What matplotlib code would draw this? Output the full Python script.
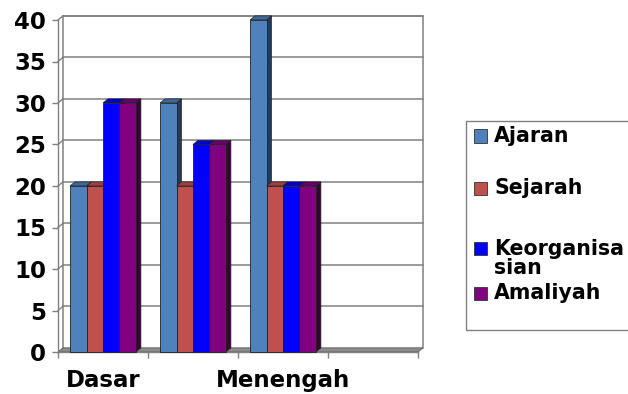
import matplotlib.pyplot as plt
import matplotlib.colors as mcolors
from matplotlib.patches import Polygon, Rectangle
import numpy as np

# Scores per level (last slot on the axis is left empty)
tick_labels = ['Dasar', '', 'Menengah', '']
series_names = ['Ajaran', 'Sejarah', 'Keorganisasian', 'Amaliyah']
ajaran = [20, 30, 40]
sejarah = [20, 20, 20]
keorganisasian = [30, 25, 20]
amaliyah = [30, 25, 20]
series_values = [ajaran, sejarah, keorganisasian, amaliyah]
colors = ['#4F81BD', '#C0504D', '#0000FF', '#800080']

W, H = 628, 394
fig = plt.figure(figsize=(W / 100, H / 100), dpi=100)
plt.rcParams['font.family'] = 'DejaVu Sans'

ax = fig.add_axes([58 / W, 1 - 352 / H, 360 / W, 332 / H])
n_slots = len(tick_labels)
ax.set_xlim(-0.5, n_slots - 0.5)
ax.set_ylim(0, 40)

# pseudo 3D depth (data units)
ddx, ddy = 0.055, 0.5
grid_c = '#808080'

# back wall gridlines + short diagonals on the left wall
for v in range(5, 45, 5):
    ax.plot([-0.5 + ddx, n_slots - 0.5 + ddx], [v + ddy, v + ddy], color=grid_c, lw=1.1, zorder=1, clip_on=False)
    ax.plot([-0.5, -0.5 + ddx], [v, v + ddy], color=grid_c, lw=1.0, zorder=1, clip_on=False)
# back wall border
ax.plot([-0.5 + ddx, -0.5 + ddx, n_slots - 0.5 + ddx, n_slots - 0.5 + ddx],
        [ddy, 40 + ddy, 40 + ddy, ddy], color=grid_c, lw=1.1, zorder=1, clip_on=False)
# floor
floor = Polygon([(-0.5, 0), (n_slots - 0.5, 0), (n_slots - 0.5 + ddx, ddy), (-0.5 + ddx, ddy)],
                closed=True, facecolor='#8c8c8c', edgecolor='#555555', lw=0.6, zorder=2, clip_on=False)
ax.add_patch(floor)


def shade(c, f):
    r, g, b = mcolors.to_rgb(c)
    return (r * f, g * f, b * f)


w = 0.183
for j, (vals, c) in enumerate(zip(series_values, colors)):
    x = np.arange(len(vals)) + (j - 1.5) * w
    z = 3 + j
    for xi, v in zip(x, vals):
        side = Polygon([(xi + w / 2, 0), (xi + w / 2 + ddx, ddy), (xi + w / 2 + ddx, v + ddy), (xi + w / 2, v)],
                       closed=True, facecolor=shade(c, 0.45), edgecolor='#222222', lw=0.5, zorder=z, clip_on=False)
        top = Polygon([(xi - w / 2, v), (xi + w / 2, v), (xi + w / 2 + ddx, v + ddy), (xi - w / 2 + ddx, v + ddy)],
                      closed=True, facecolor=shade(c, 0.8), edgecolor='#222222', lw=0.5, zorder=z, clip_on=False)
        ax.add_patch(side)
        ax.add_patch(top)
    ax.bar(x, vals, width=w, color=c, edgecolor='#222222', linewidth=0.6, zorder=z + 0.5, clip_on=False)

# axes styling
for s in ['top', 'right']:
    ax.spines[s].set_visible(False)
for s in ['left', 'bottom']:
    ax.spines[s].set_color('#808080')
    ax.spines[s].set_linewidth(1.0)
    ax.spines[s].set_zorder(2.5)

ax.set_yticks(range(0, 45, 5))
ax.tick_params(axis='y', length=4, width=1, color='#808080', pad=4.5, labelsize=16.5)
ax.set_xticks(range(n_slots), tick_labels)
ax.set_xticks(np.arange(-0.5, n_slots, 1.0), minor=True)
ax.tick_params(axis='x', which='major', length=0, pad=12, labelsize=16.5)
ax.tick_params(axis='x', which='minor', length=4, width=1, color='#808080')
for lab in ax.get_xticklabels() + ax.get_yticklabels():
    lab.set_fontweight('bold')

# legend box (drawn by hand, runs off the right edge)
fig.patches.append(Rectangle((466 / W, 1 - 330 / H), 200 / W, 209 / H, transform=fig.transFigure,
                             facecolor='white', edgecolor='#808080', lw=1.0))
legend_y = [136, 188, 248, 293]
for name, c, ly in zip(series_names, colors, legend_y):
    fig.patches.append(Rectangle((474 / W, 1 - (ly + 6.5) / H), 13 / W, 13 / H, transform=fig.transFigure,
                                 facecolor=c, edgecolor='#333333', lw=0.6))
    if len(name) > 10:
        label = name[:10] + '\n' + name[10:]
        fig.text(494 / W, 1 - (ly - 9) / H, label, fontsize=14.8, fontweight='bold', va='top', ha='left',
                 linespacing=0.95)
    else:
        fig.text(494 / W, 1 - ly / H, name, fontsize=14.8, fontweight='bold', va='center', ha='left')

fig.savefig('out.png', dpi=100)
